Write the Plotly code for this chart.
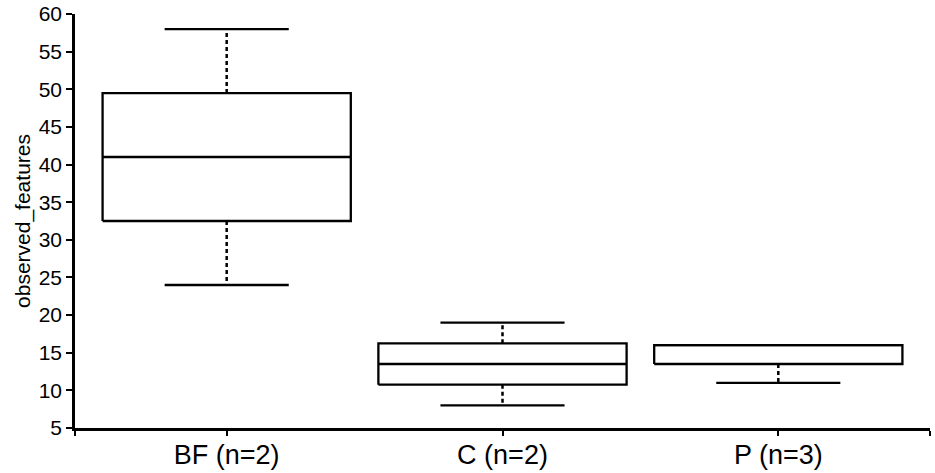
import plotly.graph_objects as go

categories = ["BF (n=2)", "C (n=2)", "P (n=3)"]
lower = [24, 8, 11]
q1 = [32.5, 10.75, 13.5]
median = [41, 13.5, 16]
q3 = [49.5, 16.25, 16]
upper = [58, 19, 16]
y_ticks = list(range(5, 61, 5))

BOX_HALF = 0.45
CAP_HALF = 0.225
FONT = "Liberation Sans, Arial, sans-serif"

box_x, box_y = [], []
med_x, med_y = [], []
wh_x, wh_y = [], []
cap_x, cap_y = [], []
for i in range(len(categories)):
    l, r = i - BOX_HALF, i + BOX_HALF
    box_x += [l, r, r, l, l, None]
    box_y += [q1[i], q1[i], q3[i], q3[i], q1[i], None]
    med_x += [l, r, None]
    med_y += [median[i], median[i], None]
    if upper[i] > q3[i]:
        wh_x += [i, i, None]
        wh_y += [q3[i], upper[i], None]
        cap_x += [i - CAP_HALF, i + CAP_HALF, None]
        cap_y += [upper[i], upper[i], None]
    if lower[i] < q1[i]:
        wh_x += [i, i, None]
        wh_y += [q1[i], lower[i], None]
        cap_x += [i - CAP_HALF, i + CAP_HALF, None]
        cap_y += [lower[i], lower[i], None]

line = dict(color="black", width=2.3)
fig = go.Figure()
fig.add_trace(go.Scatter(x=wh_x, y=wh_y, mode="lines",
                         line=dict(color="black", width=2.5, dash="4px,3px"), hoverinfo="skip"))
fig.add_trace(go.Scatter(x=cap_x, y=cap_y, mode="lines", line=line, hoverinfo="skip"))
fig.add_trace(go.Scatter(x=box_x, y=box_y, mode="lines", line=line, hoverinfo="skip"))
fig.add_trace(go.Scatter(x=med_x, y=med_y, mode="lines", line=line, hoverinfo="skip"))

x_min, x_max = -0.55, 2.55
fig.update_layout(
    width=935, height=473,
    margin=dict(l=75, r=5, t=14, b=45, autoexpand=False),
    plot_bgcolor="white", paper_bgcolor="white",
    showlegend=False,
    font=dict(family=FONT, color="black"),
    xaxis=dict(
        range=[x_min, x_max],
        tickvals=[x_min + 0.001, 0, 1, 2, x_max - 0.001],
        ticktext=[""] + categories + [""],
        ticks="outside", ticklen=5, tickwidth=2, tickcolor="black",
        showline=True, linecolor="black", linewidth=2.5,
        showgrid=False, zeroline=False, automargin=False,
        ticklabelstandoff=-4, ticklabeloverflow="allow",
        tickfont=dict(size=27, family=FONT, color="black"),
    ),
    yaxis=dict(
        range=[5, 60],
        tickvals=y_ticks,
        ticks="outside", ticklen=6, tickwidth=2, tickcolor="black",
        showline=True, linecolor="black", linewidth=2.5,
        showgrid=False, zeroline=False, automargin=False,
        ticklabeloverflow="allow",
        tickfont=dict(size=21, family=FONT, color="black"),
        title=dict(text="observed_features", font=dict(size=21, family=FONT, color="black"), standoff=3),
    ),
)

# remove the browser's default 8px body margin so the figure fills the window exactly
fig.write_html("out.html", config={"displayModeBar": False},
               post_script="document.body.style.margin='0';")
